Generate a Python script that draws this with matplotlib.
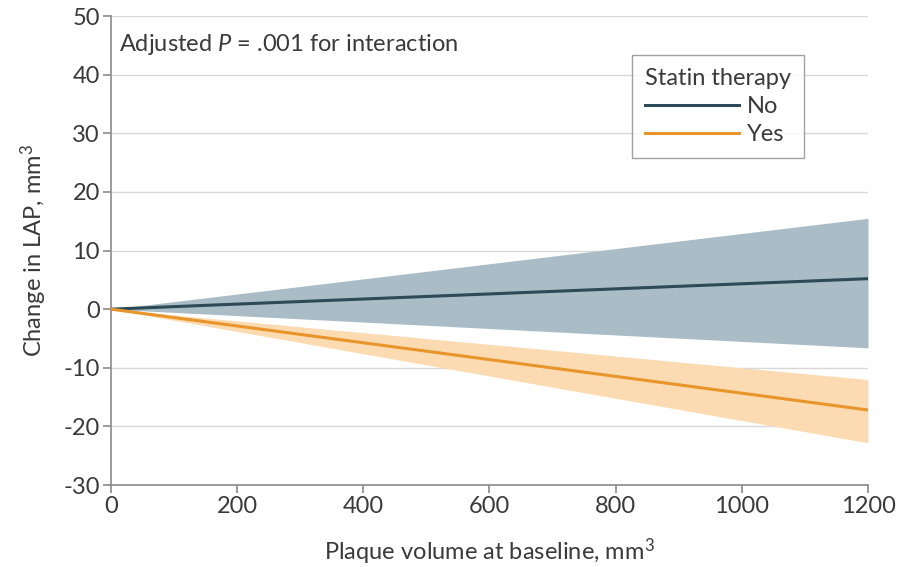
'''
Change in LAP vs baseline plaque volume, by statin therapy
'''
import matplotlib.pyplot as plt

plt.rcParams['font.family'] = ['Lato', 'DejaVu Sans']
plt.rcParams['mathtext.fontset'] = 'custom'
plt.rcParams['mathtext.rm'] = 'Lato'
plt.rcParams['mathtext.it'] = 'Lato:italic'
plt.rcParams['axes.unicode_minus'] = False

# data
x = [0, 1200]
no_mid = [0, 5.2]
no_lo = [0, -6.6]
no_hi = [0, 15.5]
yes_mid = [0, -17.2]
yes_lo = [0, -22.8]
yes_hi = [0, -12.0]
xticks = [0, 200, 400, 600, 800, 1000, 1200]
yticks = [-30, -20, -10, 0, 10, 20, 30, 40, 50]

text_col = '#3a3a3a'
fs = 17
fig = plt.figure(figsize=(8.98, 5.67), dpi=100)
ax = fig.add_axes([0.1236, 0.1446, 0.843, 0.827])

# confidence bands
ax.fill_between(x, no_lo, no_hi, color='#aabdc6', lw=0, zorder=2)
ax.fill_between(x, yes_lo, yes_hi, color='#fddbb2', lw=0, zorder=2)
ax.plot(x, no_mid, color='#2c4a57', lw=2.2, label='No', zorder=3)
ax.plot(x, yes_mid, color='#e8952c', lw=2.2, label='Yes', zorder=3)

ax.set_xlim(0, 1200)
ax.set_ylim(-30, 50)
ax.set_xticks(xticks)
ax.set_yticks(yticks)
ax.grid(axis='y', color='#d8d8d8', lw=1, zorder=1)
ax.set_axisbelow(True)
for s in ['top', 'right']:
    ax.spines[s].set_visible(False)
for s in ['left', 'bottom']:
    ax.spines[s].set_color('#8a8a8a')
    ax.spines[s].set_linewidth(1.2)
ax.tick_params(colors='#8a8a8a', labelcolor=text_col, labelsize=fs,
               length=6, width=1.2, pad=2)

ax.set_xlabel('Plaque volume at baseline, mm$^3$', fontsize=fs,
              color=text_col, labelpad=14)
ax.set_ylabel('Change in LAP, mm$^3$', fontsize=fs, color=text_col,
              labelpad=10)

ax.text(12, 45.2, 'Adjusted $P$ = .001 for interaction', fontsize=fs,
        color=text_col, va='center', ha='left')

leg = ax.legend(title='Statin therapy', loc='upper right',
                bbox_to_anchor=(0.9155, 0.917), borderaxespad=0,
                fontsize=fs, title_fontsize=fs, handlelength=4.0,
                frameon=True, fancybox=False, edgecolor='#8a8a8a',
                labelspacing=0.3, borderpad=0.55, handletextpad=0.3)
leg.get_frame().set_linewidth(1.0)
leg._legend_box.align = 'left'
for t in leg.get_texts():
    t.set_color(text_col)
leg.get_title().set_color(text_col)

fig.savefig('out.png', dpi=100)
